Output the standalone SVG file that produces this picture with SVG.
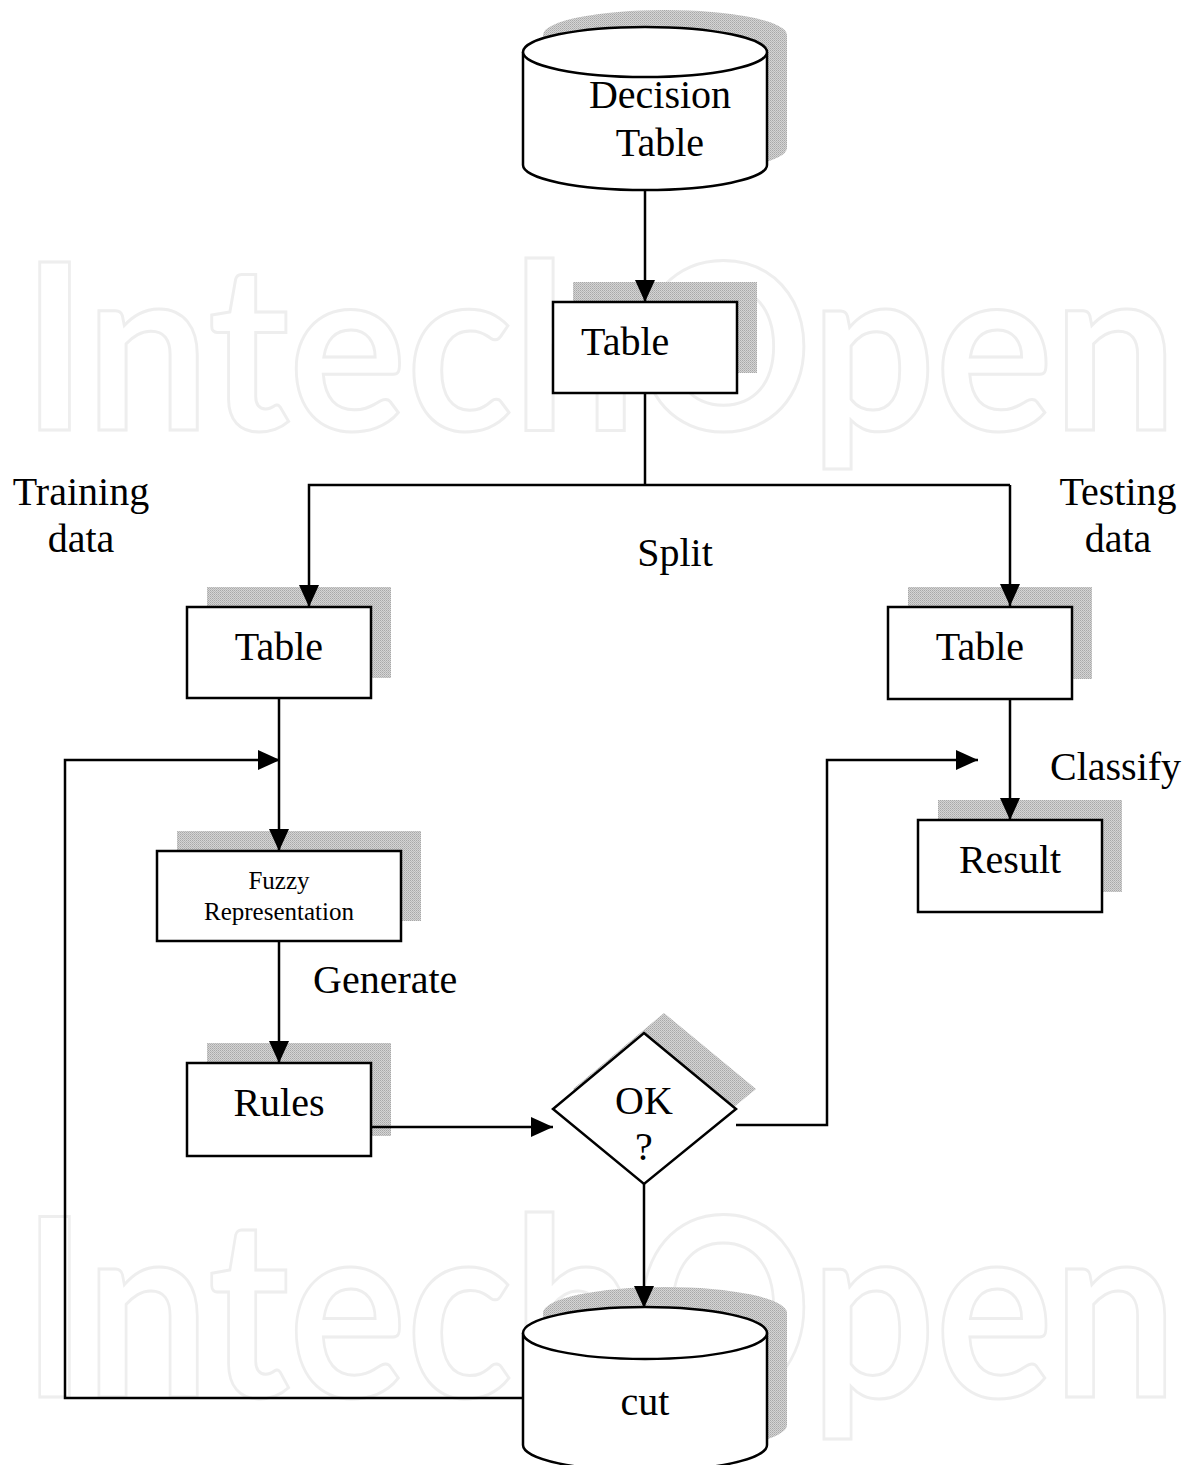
<svg xmlns="http://www.w3.org/2000/svg" width="1190" height="1465" viewBox="0 0 1190 1465">
<defs>
<pattern id="hatch" width="2" height="2" patternUnits="userSpaceOnUse">
<rect width="2" height="2" fill="#d4d4d4"/>
<rect width="1" height="1" fill="#a8a8a8"/>
<rect x="1" y="1" width="1" height="1" fill="#b8b8b8"/>
</pattern>
<marker id="arrow" markerWidth="22" markerHeight="20" refX="22" refY="10" orient="auto" markerUnits="userSpaceOnUse">
<path d="M0,0 L22,10 L0,20 Z" fill="#000"/>
</marker>
</defs>
<style>
.shadow{fill:url(#hatch);stroke:none}
.box{fill:#fff;stroke:#000;stroke-width:2.5}
.lbl{font-family:"Liberation Serif","Times New Roman",serif;font-size:40px;fill:#000}
.small{font-family:"Liberation Serif","Times New Roman",serif;font-size:25px;fill:#000}
.conn{fill:none;stroke:#000;stroke-width:2.5}
.wm{font-family:Lato,"Open Sans",sans-serif;font-weight:bold;fill:none;stroke:#eeeeee;stroke-width:3}
</style>
<rect width="1190" height="1465" fill="#fff"/>
<g id="watermark">
<text class="wm" x="22" y="430" font-size="232" textLength="1155" lengthAdjust="spacingAndGlyphs">IntechOpen</text>
<text class="wm" x="22" y="1397" font-size="250" textLength="1155" lengthAdjust="spacingAndGlyphs">IntechOpen</text>
</g>
<g id="decision-table">
<path class="shadow" d="M543,35 A122,25 0 0 1 787,35 L787,148 A122,25 0 0 1 543,148 Z"/>
<path class="box" d="M523,52 A122,25 0 0 1 767,52 L767,165 A122,25 0 0 1 523,165 Z"/>
<path class="box" d="M523,52 A122,25 0 0 0 767,52"/>
<text class="lbl" x="660" y="108" text-anchor="middle">Decision</text>
<text class="lbl" x="660" y="156" text-anchor="middle">Table</text>
</g>
<g id="table-main">
<rect class="shadow" x="573" y="282" width="184" height="91"/>
<rect class="box" x="553" y="302" width="184" height="91"/>
<text class="lbl" x="581" y="355">Table</text>
</g>
<g id="label-training">
<text class="lbl" x="81" y="505" text-anchor="middle">Training</text>
<text class="lbl" x="81" y="552" text-anchor="middle">data</text>
</g>
<g id="label-testing">
<text class="lbl" x="1118" y="505" text-anchor="middle">Testing</text>
<text class="lbl" x="1118" y="552" text-anchor="middle">data</text>
</g>
<g id="label-split">
<text class="lbl" x="675" y="566" text-anchor="middle">Split</text>
</g>
<g id="table-train">
<rect class="shadow" x="207" y="587" width="184" height="91"/>
<rect class="box" x="187" y="607" width="184" height="91"/>
<text class="lbl" x="279" y="660" text-anchor="middle">Table</text>
</g>
<g id="table-test">
<rect class="shadow" x="908" y="587" width="184" height="92"/>
<rect class="box" x="888" y="607" width="184" height="92"/>
<text class="lbl" x="980" y="660" text-anchor="middle">Table</text>
</g>
<g id="fuzzy">
<rect class="shadow" x="177" y="831" width="244" height="90"/>
<rect class="box" x="157" y="851" width="244" height="90"/>
<text class="small" x="279" y="889" text-anchor="middle">Fuzzy</text>
<text class="small" x="279" y="920" text-anchor="middle">Representation</text>
</g>
<g id="label-generate">
<text class="lbl" x="313" y="993">Generate</text>
</g>
<g id="rules">
<rect class="shadow" x="207" y="1043" width="184" height="93"/>
<rect class="box" x="187" y="1063" width="184" height="93"/>
<text class="lbl" x="279" y="1116" text-anchor="middle">Rules</text>
</g>
<g id="ok">
<path class="shadow" d="M664,1013 L756,1089 L664,1164 L573,1089 Z"/>
<path class="box" d="M644,1033 L736,1109 L644,1184 L553,1109 Z"/>
<text class="lbl" x="644" y="1114" text-anchor="middle">OK</text>
<text class="lbl" x="644" y="1160" text-anchor="middle">?</text>
</g>
<g id="label-classify">
<text class="lbl" x="1050" y="780">Classify</text>
</g>
<g id="result">
<rect class="shadow" x="938" y="800" width="184" height="92"/>
<rect class="box" x="918" y="820" width="184" height="92"/>
<text class="lbl" x="1010" y="873" text-anchor="middle">Result</text>
</g>
<g id="cut">
<path class="shadow" d="M543,1313 A122,26 0 0 1 787,1313 L787,1425 A122,26 0 0 1 543,1425 Z"/>
<path class="box" d="M523,1333 A122,26 0 0 1 767,1333 L767,1445 A122,26 0 0 1 523,1445 Z"/>
<path class="box" d="M523,1333 A122,26 0 0 0 767,1333"/>
<text class="lbl" x="645" y="1415" text-anchor="middle">cut</text>
</g>
<g id="connectors">
<line class="conn" x1="645" y1="190" x2="645" y2="302" marker-end="url(#arrow)"/>
<polyline class="conn" points="645,393 645,485"/>
<polyline class="conn" points="1010,485 309,485 309,607" marker-end="url(#arrow)"/>
<line class="conn" x1="1010" y1="485" x2="1010" y2="606" marker-end="url(#arrow)"/>
<line class="conn" x1="279" y1="698" x2="279" y2="851" marker-end="url(#arrow)"/>
<polyline class="conn" points="523,1398 65,1398 65,760 280,760" marker-end="url(#arrow)"/>
<line class="conn" x1="279" y1="941" x2="279" y2="1063" marker-end="url(#arrow)"/>
<line class="conn" x1="371" y1="1127" x2="553" y2="1127" marker-end="url(#arrow)"/>
<polyline class="conn" points="736,1125 827,1125 827,760 978,760" marker-end="url(#arrow)"/>
<line class="conn" x1="1010" y1="699" x2="1010" y2="820" marker-end="url(#arrow)"/>
<line class="conn" x1="644" y1="1184" x2="644" y2="1308" marker-end="url(#arrow)"/>
</g>
</svg>
